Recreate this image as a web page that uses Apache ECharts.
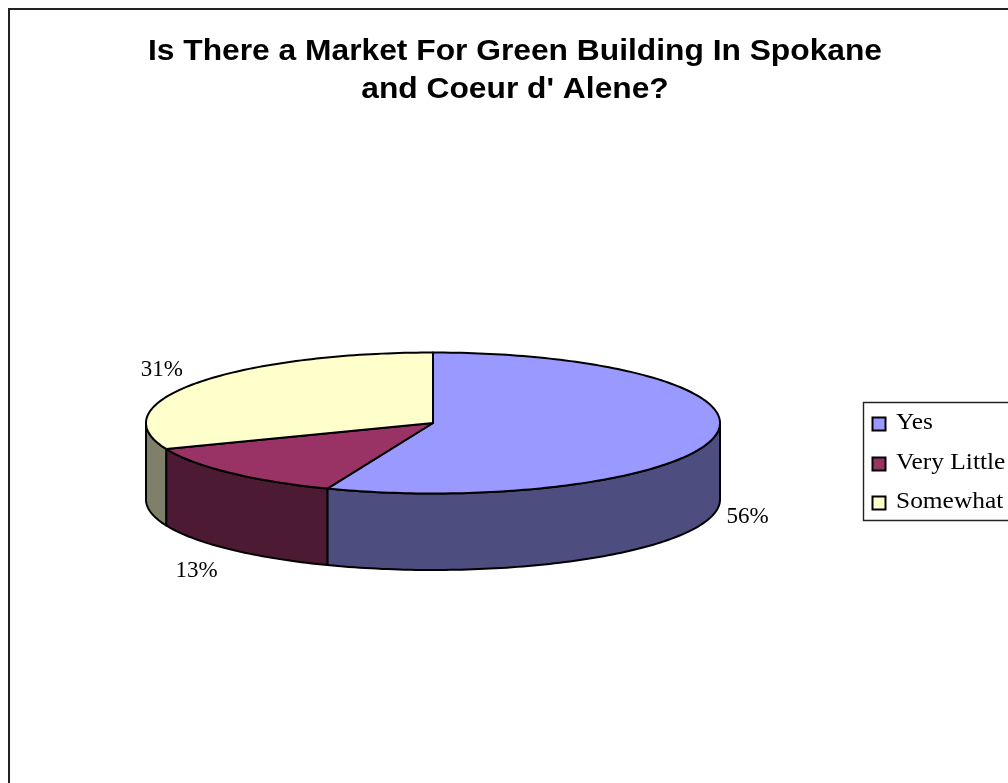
<!DOCTYPE html>
<html>
<head>
<meta charset="utf-8">
<style>html,body{margin:0;padding:0;background:#fff}#chart{width:1008px;height:783px}</style>
<script src="https://cdn.jsdelivr.net/npm/echarts@6/dist/echarts.min.js"></script>
</head>
<body>
<div id="chart"></div>
<script>
// Survey answers, shown as a tilted disc
const categories = ['Yes', 'Very Little', 'Somewhat'];
const shares = [56, 13, 31];
const topColors = ['#9999FF', '#993366', '#FFFFCC'];
const wallColors = ['#4D4D80', '#4C1A33', '#80806A'];
const titleLines = ['Is There a Market For Green Building In Spokane', "and Coeur d' Alene?"];

// Disc geometry
const cx = 433, cy = 423, rx = 287, ry = 70.5, depth = 76.5;
const labelOffsets = [[32.7, 4.3], [-33.5, 21.6], [-33.7, -13.4]];
const total = shares.reduce((a, b) => a + b, 0);
const ink = '#000';

function rim(t, dy) {
  return [cx + rx * Math.sin(t), cy + dy - ry * Math.cos(t)];
}

function arc(a, b, dy) {
  const pts = [];
  const n = Math.max(2, Math.ceil((b - a) / 0.02));
  for (let i = 0; i <= n; i++) pts.push(rim(a + (b - a) * i / n, dy));
  return pts;
}

function renderSlice(index) {
  return function (params, api) {
    const before = shares.slice(0, index).reduce((a, b) => a + b, 0);
    const a = before / total * Math.PI * 2;
    const b = a + api.value(0) / total * Math.PI * 2;
    const mid = (a + b) / 2;
    const children = [];
    // The front wall covers the part of the rim facing the viewer
    const wa = Math.max(a, Math.PI / 2), wb = Math.min(b, Math.PI * 1.5);
    if (wb > wa) {
      children.push({
        type: 'polygon', z2: 1,
        shape: { points: arc(wa, wb, 0).concat(arc(wa, wb, depth).reverse()) },
        style: { fill: wallColors[index], stroke: ink, lineWidth: 2, lineJoin: 'round' }
      });
    }
    children.push({
      type: 'polygon', z2: 2,
      shape: { points: [[cx, cy]].concat(arc(a, b, 0)) },
      style: { fill: topColors[index], stroke: ink, lineWidth: 2, lineJoin: 'round' }
    });
    const front = Math.cos(mid) < 0;
    const anchor = rim(mid, front ? depth : 0);
    children.push({
      type: 'text', z2: 3,
      x: anchor[0] + labelOffsets[index][0],
      y: anchor[1] + labelOffsets[index][1],
      style: {
        text: api.value(0) + '%', fill: '#000', align: 'center', verticalAlign: 'middle',
        font: '23px "Liberation Serif"'
      }
    });
    return { type: 'group', children: children };
  };
}

// Legend box runs off the right side of the canvas
const legendRows = [424, 464, 503];
const legendGraphics = [
  { type: 'rect', shape: { x: 863.5, y: 402.5, width: 200, height: 118 },
    style: { fill: '#fff', stroke: '#222', lineWidth: 1.4 } }
];
categories.forEach((name, i) => {
  legendGraphics.push({
    type: 'rect', shape: { x: 872.5, y: legendRows[i] - 6.5, width: 13, height: 13 },
    style: { fill: topColors[i], stroke: ink, lineWidth: 2 }
  });
  legendGraphics.push({
    type: 'text', x: 896, y: legendRows[i] - 0.5, scaleX: 1.12,
    style: { text: name, fill: '#000', align: 'left', verticalAlign: 'middle',
      font: '22.7px "Liberation Serif"' }
  });
});

// Title lines, widened to the spaced-out setting of the heading
const titleGraphics = titleLines.map((line, i) => ({
  type: 'text', x: 515, y: 52 + i * 38, scaleX: 1.095,
  style: { text: line, fill: '#000', align: 'center', verticalAlign: 'middle',
    font: 'bold 29px "Liberation Sans"' }
}));

const chart = echarts.init(document.getElementById('chart'), null, { renderer: 'canvas' });
chart.setOption({
  animation: false,
  backgroundColor: '#fff',
  graphic: [
    { type: 'rect', shape: { x: 9, y: 9, width: 1100, height: 900 },
      style: { fill: 'transparent', stroke: '#222', lineWidth: 2 } }
  ].concat(titleGraphics, legendGraphics),
  series: categories.map((name, i) => ({
    type: 'custom',
    name: name,
    coordinateSystem: 'none',
    renderItem: renderSlice(i),
    data: [[shares[i]]],
    silent: true
  }))
});
</script>
</body>
</html>
